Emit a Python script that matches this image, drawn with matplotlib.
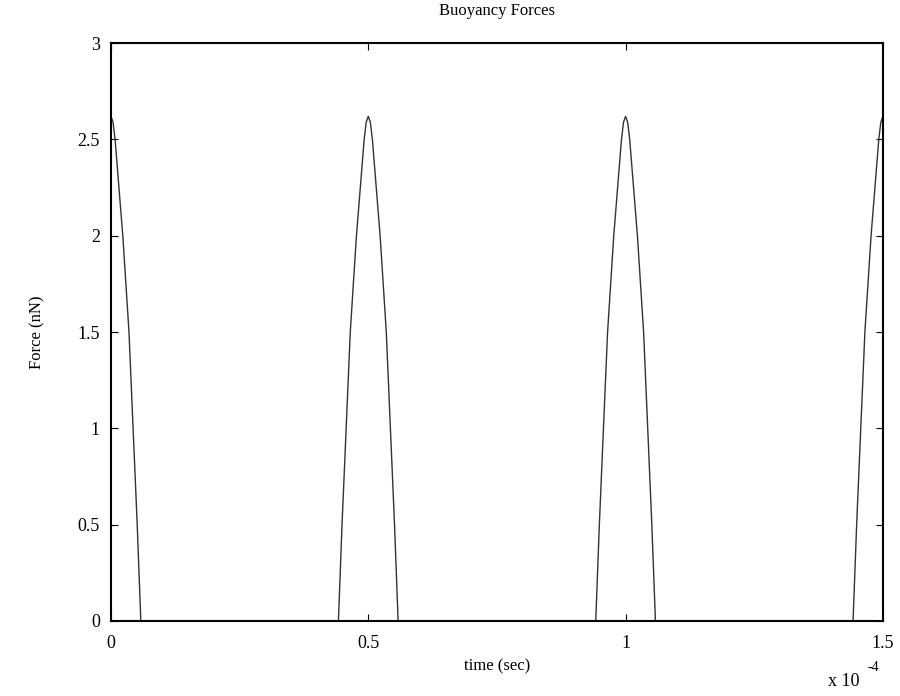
import numpy as np
import matplotlib.pyplot as plt

# time in units of 1e-4 s, force in nN
time_vals = [
    0.000, 0.004, 0.008, 0.023, 0.035, 0.043, 0.051, 0.058,
    0.442, 0.449, 0.457, 0.465, 0.477, 0.492, 0.496, 0.500, 0.504, 0.508, 0.523, 0.535, 0.543, 0.551, 0.558,
    0.942, 0.949, 0.957, 0.965, 0.977, 0.992, 0.996, 1.000, 1.004, 1.008, 1.023, 1.035, 1.043, 1.051, 1.058,
    1.442, 1.449, 1.457, 1.465, 1.477, 1.492, 1.496, 1.500,
]
force_vals = [
    2.62, 2.59, 2.50, 2.00, 1.50, 1.00, 0.50, 0.00,
    0.00, 0.50, 1.00, 1.50, 2.00, 2.50, 2.59, 2.62, 2.59, 2.50, 2.00, 1.50, 1.00, 0.50, 0.00,
    0.00, 0.50, 1.00, 1.50, 2.00, 2.50, 2.59, 2.62, 2.59, 2.50, 2.00, 1.50, 1.00, 0.50, 0.00,
    0.00, 0.50, 1.00, 1.50, 2.00, 2.50, 2.59, 2.62,
]
xticks = [0, 0.5, 1, 1.5]
xtick_labels = ['0', '0.5', '1', '1.5']
yticks = [0, 0.5, 1, 1.5, 2, 2.5, 3]
ytick_labels = ['0', '0.5', '1', '1.5', '2', '2.5', '3']

plt.rcParams['font.family'] = ['Liberation Serif', 'DejaVu Serif']

fig = plt.figure(figsize=(9, 6.96), dpi=100)
ax = fig.add_axes([0.1233, 0.1078, 0.8577, 0.8302])

ax.plot(time_vals, force_vals, color='#333333', linewidth=1.0)

ax.set_xlim(0, 1.5)
ax.set_ylim(0, 3)
ax.set_xticks(xticks)
ax.set_xticklabels(xtick_labels, fontsize=13)
ax.set_yticks(yticks)
ax.set_yticklabels(ytick_labels, fontsize=13)
ax.tick_params(axis='y', direction='in', length=5, width=0.8, right=True, pad=8)
ax.tick_params(axis='x', direction='in', length=5, width=0.8, top=True, pad=10)
for sp in ax.spines.values():
    sp.set_linewidth(1.5)

ax.set_title('Buoyancy Forces', fontsize=12, pad=20)
ax.set_xlabel('time (sec)', fontsize=12, labelpad=5)
ax.set_ylabel('Force (nN)', fontsize=12, labelpad=23)

fig.text(0.937, 0.008, 'x 10', fontsize=13, ha='center', va='bottom')
fig.text(0.964, 0.032, '-4', fontsize=10, ha='left', va='bottom')

fig.savefig('out.png', dpi=100)
